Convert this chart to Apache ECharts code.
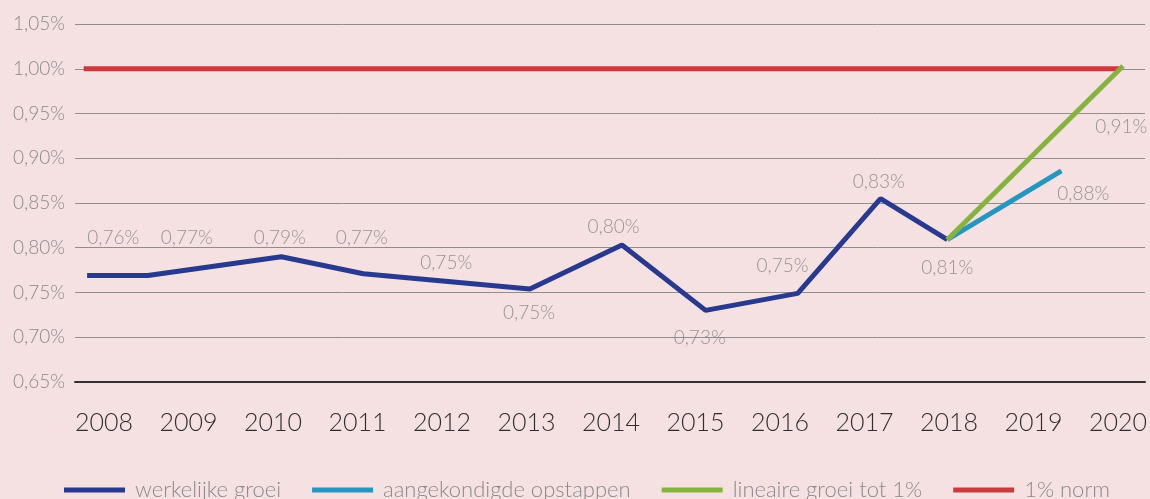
<!DOCTYPE html>
<html>
<head>
<meta charset="utf-8">
<script src="https://cdn.jsdelivr.net/npm/echarts@6/dist/echarts.min.js"></script>
<style>
  html, body { margin: 0; padding: 0; background: #f5e1e1; }
  #chart { width: 1150px; height: 499px; }
</style>
</head>
<body>
<div id="chart"></div>
<script>
// jaartallen op de x-as
const years = [2008, 2009, 2010, 2011, 2012, 2013, 2014, 2015, 2016, 2017, 2018, 2019, 2020];

// werkelijke groei (x = positie in jaren zoals in de figuur)
const actualX = [2007.8, 2008.52, 2010.1, 2011.07, 2013.04, 2014.13, 2015.12, 2016.21, 2017.19, 2017.98];
const actualY = [0.769, 0.769, 0.790, 0.771, 0.754, 0.803, 0.730, 0.749, 0.855, 0.809];

// aangekondigde opstappen
const plannedX = [2017.98, 2019.33];
const plannedY = [0.809, 0.886];

// lineaire groei tot 1%
const linearX = [2017.98, 2020.06];
const linearY = [0.809, 1.003];

// 1% norm
const normX = [2007.76, 2020.02];
const normY = [1.0, 1.0];

// losse waardelabels
const labelTexts = ['0,76%', '0,77%', '0,79%', '0,77%', '0,75%', '0,75%', '0,80%', '0,73%', '0,75%', '0,83%', '0,81%', '0,88%', '0,91%'];
const labelX = [2008.11, 2008.98, 2010.08, 2011.05, 2012.05, 2013.03, 2014.03, 2015.05, 2016.03, 2017.17, 2017.98, 2019.59, 2020.04];
const labelY = [0.8115, 0.8115, 0.811, 0.8115, 0.7828, 0.7275, 0.8238, 0.6996, 0.7798, 0.8741, 0.7779, 0.8604, 0.935];

const zip = (xs, ys) => xs.map((x, i) => [x, ys[i]]);

const FONT = 'Lato, "Open Sans", sans-serif';

let myChart = echarts.init(document.getElementById('chart'));
let option = {
    backgroundColor: '#f5e1e1',
    animation: false,
    grid: { left: 75, right: 5, top: 24, bottom: 117 },
    xAxis: {
        type: 'value',
        min: 2007.657,
        max: 2020.32,
        splitLine: { show: false },
        axisLine: { show: true, lineStyle: { color: '#333333', width: 2 } },
        axisTick: { show: false },
        axisLabel: {
            customValues: years,
            margin: 28,
            fontSize: 25,
            fontFamily: FONT,
            fontWeight: 300,
            color: '#2e2e2e',
            formatter: v => String(v)
        }
    },
    yAxis: {
        type: 'value',
        min: 0.65,
        max: 1.05,
        interval: 0.05,
        axisLine: { show: false },
        axisTick: { show: false },
        splitLine: { lineStyle: { color: '#8e8e8e', width: 1 } },
        axisLabel: {
            margin: 10,
            fontSize: 19,
            fontFamily: FONT,
            fontWeight: 300,
            color: '#8a8a8a',
            formatter: v => v.toFixed(2).replace('.', ',') + '%'
        }
    },
    legend: {
        left: 64,
        top: 479,
        padding: 0,
        itemWidth: 61,
        itemHeight: 5,
        itemGap: 31,
        icon: 'rect',
        data: ['werkelijke groei', 'aangekondigde opstappen', 'lineaire groei tot 1%', '1% norm'],
        textStyle: {
            fontSize: 22,
            fontFamily: FONT,
            fontWeight: 300,
            color: '#8a8a8a',
            padding: [0, 0, 0, 5]
        }
    },
    series: [
        {
            name: '1% norm',
            type: 'line',
            data: zip(normX, normY),
            symbol: 'none',
            lineStyle: { color: '#cc3a3f', width: 5 },
            itemStyle: { color: '#cc3a3f' }
        },
        {
            name: 'werkelijke groei',
            type: 'line',
            data: zip(actualX, actualY),
            symbol: 'none',
            lineStyle: { color: '#283a8f', width: 5 },
            itemStyle: { color: '#283a8f' }
        },
        {
            name: 'aangekondigde opstappen',
            type: 'line',
            data: zip(plannedX, plannedY),
            symbol: 'none',
            lineStyle: { color: '#2596c0', width: 5 },
            itemStyle: { color: '#2596c0' }
        },
        {
            name: 'lineaire groei tot 1%',
            type: 'line',
            data: zip(linearX, linearY),
            symbol: 'none',
            lineStyle: { color: '#86b33d', width: 5 },
            itemStyle: { color: '#86b33d' }
        },
        {
            name: 'labels',
            type: 'scatter',
            data: zip(labelX, labelY),
            symbolSize: 1,
            itemStyle: { color: 'rgba(0,0,0,0)' },
            silent: true,
            label: {
                show: true,
                position: 'inside',
                fontSize: 19,
                fontFamily: FONT,
                fontWeight: 300,
                color: '#7f7f7f',
                formatter: p => labelTexts[p.dataIndex]
            }
        }
    ]
};
myChart.setOption(option, true);
</script>
</body>
</html>
